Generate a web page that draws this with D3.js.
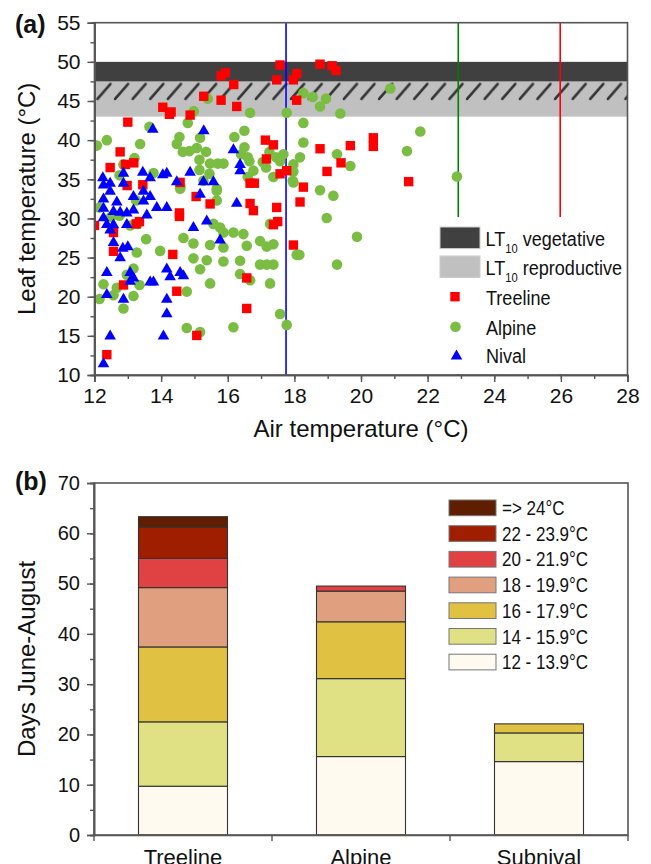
<!DOCTYPE html>
<html>
<head>
<meta charset="utf-8">
<script src="https://cdn.jsdelivr.net/npm/d3@7"></script>
<style>
	body { margin: 0; background: #fff; }
	svg text { font-family: "Liberation Sans", Arial, sans-serif; fill: #111; }
</style>
</head>
<body>
<svg id="chart" width="651" height="864"></svg>
<script>

// Panel (a): leaf vs air temperature, [air, leaf]
var treelinePts = [
	[13.0,42.3],[12.77,38.5],[12.47,36.5],[12.93,36.9],[13.18,37.1],[14.05,44.2],[14.25,43.3],[14.3,43.6],
	[14.87,43.2],[15.8,48.2],[15.93,48.6],[15.28,45.6],[15.8,45.1],[16.18,47.1],[16.27,44.3],[17.57,49.6],
	[17.47,47.7],[17.97,47.7],[18.07,48.5],[18.07,45.1],[18.77,49.7],[19.13,49.5],[19.25,48.9],[18.77,38.9],
	[17.13,40.0],[17.37,39.4],[17.16,37.6],[17.57,35.7],[17.77,36.1],[16.67,34.5],[16.8,34.5],[14.57,34.6],
	[13.45,34.3],[12.98,34.2],[18.27,34.0],[19.68,39.3],[20.37,40.3],[20.37,39.2],[19.4,37.1],[18.98,36.0],
	[21.43,34.7],[15.05,32.8],[15.47,31.85],[14.55,30.7],[14.55,30.25],[13.25,29.3],[13.35,29.6],[12.57,28.2],
	[12.57,25.8],[14.35,25.4],[12.87,21.5],[14.47,20.7],[15.07,15.05],[12.37,12.6],[16.57,22.4],[16.57,18.5],
	[16.67,31.9],[16.77,31.0],[17.47,31.4],[17.37,29.2],[17.5,29.6],[17.97,26.6],[18.17,32.1],[12.0,29.1]
];
var alpinePts = [
	[12.07,39.3],[12.37,40.0],[12.87,36.9],[13.2,37.7],[12.75,35.5],[13.37,39.5],[13.65,41.7],[13.77,35.8],
	[14.98,43.7],[14.8,42.2],[14.55,40.4],[14.47,39.5],[14.65,38.5],[14.85,38.6],[15.07,39.0],[15.17,40.3],
	[15.35,38.5],[15.15,37.5],[15.47,37.0],[15.7,37.0],[15.87,37.0],[15.4,45.3],[16.67,43.5],[16.5,41.2],
	[16.2,40.4],[16.5,39.1],[16.4,38.2],[16.6,37.8],[16.65,37.3],[16.77,36.1],[16.6,35.3],[17.05,37.2],
	[17.15,36.5],[17.37,35.3],[17.25,38.5],[17.45,37.8],[17.67,38.2],[17.57,37.3],[17.97,36.9],[17.95,34.8],
	[17.97,36.0],[17.77,43.5],[18.27,46.0],[18.27,42.2],[18.27,39.7],[18.17,37.8],[18.55,45.5],[18.77,44.3],
	[18.95,45.3],[18.77,33.6],[15.45,35.7],[15.27,34.8],[15.15,36.2],[15.67,33.8],[14.58,34.0],[19.38,43.4],
	[20.88,46.6],[21.78,41.1],[21.38,38.6],[19.28,38.2],[19.68,36.7],[19.17,32.9],[22.88,35.35],[18.97,30.05],
	[19.88,27.65],[18.15,25.35],[19.28,24.1],[12.15,31.4],[12.27,21.6],[12.15,19.7],[12.57,20.2],[12.67,21.15],
	[12.87,18.5],[13.17,20.1],[12.97,22.8],[13.17,23.6],[13.35,21.5],[13.27,25.65],[13.55,27.35],[13.07,29.1],
	[12.75,30.35],[13.97,25.85],[14.57,33.8],[14.67,27.5],[14.77,20.65],[14.77,16.0],[14.97,26.8],[14.97,24.9],
	[15.17,23.5],[15.17,15.5],[15.37,24.65],[15.47,26.6],[15.47,21.7],[15.67,33.55],[15.67,32.3],[15.57,29.3],
	[15.77,28.85],[15.87,28.2],[15.87,26.3],[15.87,24.5],[16.17,28.2],[16.17,16.1],[16.37,24.6],[16.37,22.9],
	[16.47,28.0],[16.57,26.5],[16.67,22.1],[16.97,27.1],[16.97,24.1],[17.17,26.4],[17.17,24.1],[17.27,21.7],
	[17.37,26.7],[17.37,24.1],[17.27,29.3],[17.57,17.8],[17.77,16.4],[18.07,25.35],[17.97,34.6],[13.25,32.3],
	[13.3,29.3],[12.5,30.2]
];
var nivalPts = [
	[13.75,41.5],[15.28,41.3],[16.17,38.9],[16.37,37.0],[16.37,36.2],[12.25,35.3],[12.87,35.9],[13.45,36.0],
	[14.17,35.9],[14.05,35.7],[13.67,35.3],[14.87,36.0],[14.47,34.8],[15.27,34.8],[15.57,34.8],[12.47,34.6],
	[12.27,34.4],[12.87,34.6],[12.47,33.6],[12.27,32.6],[12.67,32.2],[13.17,32.9],[13.47,32.35],[13.67,32.9],
	[13.47,33.6],[15.17,33.2],[16.27,32.05],[12.27,31.4],[12.57,31.0],[12.77,30.9],[12.97,30.8],[13.17,31.2],
	[13.87,31.5],[14.17,31.5],[13.57,30.55],[12.27,30.2],[12.37,29.35],[12.57,29.3],[12.47,28.65],[12.97,29.35],
	[14.97,28.95],[15.37,29.8],[15.77,27.35],[12.57,27.05],[12.85,26.3],[13.0,26.5],[12.77,25.1],[12.37,23.2],
	[13.07,23.2],[13.17,22.5],[13.07,22.1],[13.67,22.0],[13.77,22.0],[14.17,23.65],[14.27,22.65],[14.57,23.2],
	[14.67,22.8],[12.37,20.4],[12.87,19.8],[14.17,19.8],[14.17,17.95],[12.47,15.1],[14.07,15.1],[12.27,11.55]
];
var airLines = [ { x: 17.75, color: "#0000ff" }, { x: 22.92, color: "#008000" }, { x: 25.98, color: "#ff0000" } ];
var bandVegetative = [47.5, 50];
var bandReproductive = [43, 47.5];
var bandHatch = [45, 47.5];
var xTicksA = d3.range( 12, 29, 2 );
var yTicksA = d3.range( 10, 56, 5 );

// Panel (b): days June-August per temperature class (stacked bottom to top)
var sites = [ "Treeline", "Alpine", "Subnival" ];
var classes = [ "12 - 13.9°C", "14 - 15.9°C", "16 - 17.9°C", "18 - 19.9°C", "20 - 21.9°C", "22 - 23.9°C", "=> 24°C" ];
var classColors = [ "#fffaef", "#e0e184", "#e0c142", "#e0a07f", "#e04142", "#a01e00", "#5f1e00" ];
var treelineDays = [ 9.7, 12.8, 14.9, 11.8, 5.8, 6.2, 2.1 ];
var alpineDays = [ 15.6, 15.5, 11.3, 6.1, 1.0, 0, 0 ];
var subnivalDays = [ 14.6, 5.7, 1.8, 0, 0, 0, 0 ];
var yTicksB = d3.range( 0, 71, 10 );

var svg = d3.select( "#chart" );
var axisColor = "#555";

// condensed text (the legends use a narrow face)
var narrowText = function( parent, x, y, size, sx )
{
	return parent.append( "text" )
		.attr( "transform", "translate(" + x + "," + y + ") scale(" + sx + ",1)" )
		.style( "font-size", size + "px" );
};

// ---------- Panel (a) ----------
var A = { left: 94.5, right: 627.5, top: 22.7, bottom: 375 };
var xA = d3.scaleLinear().domain( [ 12, 28 ] ).range( [ A.left, A.right ] );
var yA = d3.scaleLinear().domain( [ 10, 55 ] ).range( [ A.bottom, A.top ] );

var defs = svg.append( "defs" );
var hatchH = yA( bandHatch[ 0 ] ) - yA( bandHatch[ 1 ] );
var pat = defs.append( "pattern" )
	.attr( "id", "hatch" )
	.attr( "patternUnits", "userSpaceOnUse" )
	.attr( "x", A.left + 1 ).attr( "y", yA( bandHatch[ 1 ] ) )
	.attr( "width", 17.6 )
	.attr( "height", hatchH );
pat.append( "line" )
	.attr( "x1", 2 ).attr( "y1", hatchH - 2 )
	.attr( "x2", 15 ).attr( "y2", 2.5 )
	.attr( "stroke", "#333" ).attr( "stroke-width", 2.6 ).attr( "stroke-linecap", "round" );

defs.append( "clipPath" ).attr( "id", "clipA" ).append( "rect" )
	.attr( "x", A.left ).attr( "y", A.top ).attr( "width", A.right - A.left ).attr( "height", A.bottom - A.top );

var gA = svg.append( "g" );
var plotA = gA.append( "g" ).attr( "clip-path", "url(#clipA)" );

plotA.append( "rect" )
	.attr( "x", A.left ).attr( "width", A.right - A.left )
	.attr( "y", yA( bandReproductive[ 1 ] ) ).attr( "height", yA( bandReproductive[ 0 ] ) - yA( bandReproductive[ 1 ] ) )
	.attr( "fill", "#c0c0c0" );
plotA.append( "rect" )
	.attr( "x", A.left ).attr( "width", A.right - A.left )
	.attr( "y", yA( bandVegetative[ 1 ] ) ).attr( "height", yA( bandVegetative[ 0 ] ) - yA( bandVegetative[ 1 ] ) )
	.attr( "fill", "#404040" );
plotA.append( "rect" )
	.attr( "x", A.left ).attr( "width", A.right - A.left )
	.attr( "y", yA( bandHatch[ 1 ] ) ).attr( "height", hatchH )
	.attr( "fill", "url(#hatch)" );

plotA.selectAll( "line.air" )
	.data( airLines )
	.enter().append( "line" )
	.attr( "class", "air" )
	.attr( "x1", function( d ) { return xA( d.x ); } ).attr( "x2", function( d ) { return xA( d.x ); } )
	.attr( "y1", A.top ).attr( "y2", A.bottom )
	.attr( "stroke", function( d ) { return d.color; } )
	.attr( "stroke-width", 1.6 );

// legend background hides the lines below it
var legA = { x: 436, y: 217 };
plotA.append( "rect" )
	.attr( "x", legA.x ).attr( "y", legA.y ).attr( "width", A.right - legA.x - 1 ).attr( "height", A.bottom - legA.y - 1 )
	.attr( "fill", "#fff" );

var pts = plotA.append( "g" );
pts.selectAll( "circle" )
	.data( alpinePts )
	.enter().append( "circle" )
	.attr( "cx", function( d ) { return xA( d[ 0 ] ); } )
	.attr( "cy", function( d ) { return yA( d[ 1 ] ); } )
	.attr( "r", 5.3 )
	.attr( "fill", "#7abd42" );
pts.selectAll( "rect" )
	.data( treelinePts )
	.enter().append( "rect" )
	.attr( "x", function( d ) { return xA( d[ 0 ] ) - 4.7; } )
	.attr( "y", function( d ) { return yA( d[ 1 ] ) - 4.7; } )
	.attr( "width", 9.4 ).attr( "height", 9.4 )
	.attr( "fill", "#ff0000" );
pts.selectAll( "path" )
	.data( nivalPts )
	.enter().append( "path" )
	.attr( "transform", function( d ) { return "translate(" + xA( d[ 0 ] ) + "," + yA( d[ 1 ] ) + ")"; } )
	.attr( "d", "M0,-5.6L5.8,4.4L-5.8,4.4Z" )
	.attr( "fill", "#0000ff" );

// axes (a)
gA.append( "g" )
	.attr( "transform", "translate(0," + A.bottom + ")" )
	.call( d3.axisBottom( xA ).tickValues( d3.range( 12, 28.1, 1 ) ).tickSize( 4 ).tickFormat( "" ) );
gA.append( "g" )
	.attr( "class", "ticksA" )
	.attr( "transform", "translate(0," + A.bottom + ")" )
	.call( d3.axisBottom( xA ).tickValues( xTicksA ).tickSize( 7 ).tickPadding( 6 ).tickFormat( d3.format( "d" ) ) );
gA.append( "g" )
	.attr( "transform", "translate(" + A.left + ",0)" )
	.call( d3.axisLeft( yA ).tickValues( d3.range( 10, 55.1, 2.5 ) ).tickSize( 4 ).tickFormat( "" ) );
gA.append( "g" )
	.attr( "class", "ticksA" )
	.attr( "transform", "translate(" + A.left + ",0)" )
	.call( d3.axisLeft( yA ).tickValues( yTicksA ).tickSize( 7 ).tickPadding( 7 ).tickFormat( d3.format( "d" ) ) );
gA.append( "rect" )
	.attr( "x", A.left ).attr( "y", A.top ).attr( "width", A.right - A.left ).attr( "height", A.bottom - A.top )
	.attr( "fill", "none" ).attr( "stroke", axisColor ).attr( "stroke-width", 1.6 );

gA.append( "text" )
	.attr( "x", 361 ).attr( "y", 437 )
	.attr( "text-anchor", "middle" ).style( "font-size", "24px" )
	.text( "Air temperature (°C)" );
gA.append( "text" )
	.attr( "transform", "translate(35," + ( A.top + A.bottom ) / 2 + ") rotate(-90)" )
	.attr( "text-anchor", "middle" ).style( "font-size", "24px" )
	.text( "Leaf temperature (°C)" );
gA.append( "text" )
	.attr( "x", 15 ).attr( "y", 33 )
	.style( "font-size", "25px" ).style( "font-weight", "bold" )
	.text( "(a)" );

// legend (a)
var legItems = [
	{ kind: "box", fill: "#404040", label: "vegetative" },
	{ kind: "box", fill: "#c0c0c0", label: "reproductive" },
	{ kind: "square", fill: "#ff0000", label: "Treeline" },
	{ kind: "circle", fill: "#7abd42", label: "Alpine" },
	{ kind: "triangle", fill: "#0000ff", label: "Nival" }
];
var legRowY = [ 238, 267, 296.7, 326.7, 355 ];
var legG = gA.append( "g" );
legItems.forEach( function( item, i ) {
	var cy = legRowY[ i ];
	if( item.kind == "box" )
	{
		legG.append( "rect" ).attr( "x", 440 ).attr( "y", cy - 11 ).attr( "width", 40 ).attr( "height", 21.6 )
			.attr( "fill", item.fill ).attr( "stroke", "#ccc" ).attr( "stroke-width", 1 );
		var t = narrowText( legG, 485.5, cy + 7.5, 21, 0.86 );
		t.append( "tspan" ).text( "LT" );
		t.append( "tspan" ).attr( "dy", 7 ).style( "font-size", "13px" ).text( "10" );
		t.append( "tspan" ).attr( "dy", -7 ).text( "\u00a0" + item.label );
	}
	else
	{
		if( item.kind == "square" )
			legG.append( "rect" ).attr( "x", 455 - 4.7 ).attr( "y", cy - 4.7 ).attr( "width", 9.4 ).attr( "height", 9.4 ).attr( "fill", item.fill );
		else if( item.kind == "circle" )
			legG.append( "circle" ).attr( "cx", 455.5 ).attr( "cy", cy ).attr( "r", 5.3 ).attr( "fill", item.fill );
		else
			legG.append( "path" ).attr( "transform", "translate(456.5," + cy + ")" ).attr( "d", "M0,-5.6L5.8,4.4L-5.8,4.4Z" ).attr( "fill", item.fill );
		narrowText( legG, 486, cy + 8, 21, 0.86 ).text( item.label );
	}
} );

// ---------- Panel (b) ----------
var B = { left: 94, right: 628, top: 483, bottom: 835 };
var xB = d3.scaleBand().domain( sites ).range( [ B.left, B.right ] ).paddingInner( 0 ).paddingOuter( 0 );
var yB = d3.scaleLinear().domain( [ 0, 70 ] ).range( [ B.bottom, B.top ] );

var rows = sites.map( function( s, i ) {
	var vals = [ treelineDays, alpineDays, subnivalDays ][ i ];
	var row = { site: s };
	classes.forEach( function( c, j ) { row[ c ] = vals[ j ]; } );
	return row;
} );
var stack = d3.stack().keys( classes )( rows );

var gB = svg.append( "g" );
var barW = xB.bandwidth() * 0.5;
gB.selectAll( "g.layer" )
	.data( stack )
	.enter().append( "g" )
	.attr( "class", "layer" )
	.attr( "fill", function( d, i ) { return classColors[ i ]; } )
	.selectAll( "rect" )
	.data( function( d ) { return d.filter( function( p ) { return p[ 1 ] - p[ 0 ] > 0; } ); } )
	.enter().append( "rect" )
	.attr( "x", function( d ) { return xB( d.data.site ) + ( xB.bandwidth() - barW ) / 2; } )
	.attr( "width", barW )
	.attr( "y", function( d ) { return yB( d[ 1 ] ); } )
	.attr( "height", function( d ) { return yB( d[ 0 ] ) - yB( d[ 1 ] ); } )
	.attr( "stroke", "#333" ).attr( "stroke-width", 1.1 );

gB.append( "g" )
	.attr( "class", "catB" )
	.attr( "transform", "translate(0," + B.bottom + ")" )
	.call( d3.axisBottom( xB ).tickSize( 0 ).tickPadding( 9 ) )
	.call( function( g ) { g.selectAll( "text" ).attr( "dy", "0.95em" ); } );
gB.append( "g" )
	.attr( "transform", "translate(0," + B.bottom + ")" )
	.selectAll( "line" )
	.data( sites.concat( [ null ] ) )
	.enter().append( "line" )
	.attr( "x1", function( d, i ) { return B.left + i * xB.step(); } )
	.attr( "x2", function( d, i ) { return B.left + i * xB.step(); } )
	.attr( "y1", 0 ).attr( "y2", 6 )
	.attr( "stroke", axisColor ).attr( "stroke-width", 1.4 );
gB.append( "g" )
	.attr( "transform", "translate(" + B.left + ",0)" )
	.call( d3.axisLeft( yB ).tickValues( d3.range( 0, 70.1, 5 ) ).tickSize( 4 ).tickFormat( "" ) );
gB.append( "g" )
	.attr( "class", "ticksB" )
	.attr( "transform", "translate(" + B.left + ",0)" )
	.call( d3.axisLeft( yB ).tickValues( yTicksB ).tickSize( 7 ).tickPadding( 7 ).tickFormat( d3.format( "d" ) ) );
gB.append( "rect" )
	.attr( "x", B.left ).attr( "y", B.top ).attr( "width", B.right - B.left ).attr( "height", B.bottom - B.top )
	.attr( "fill", "none" ).attr( "stroke", axisColor ).attr( "stroke-width", 1.6 );

gB.append( "text" )
	.attr( "transform", "translate(35," + ( B.top + B.bottom ) / 2 + ") rotate(-90)" )
	.attr( "text-anchor", "middle" ).style( "font-size", "24px" )
	.text( "Days June-August" );
gB.append( "text" )
	.attr( "x", 15 ).attr( "y", 490 )
	.style( "font-size", "25px" ).style( "font-weight", "bold" )
	.text( "(b)" );

// legend (b), top class first
var legB = gB.append( "g" );
classes.slice().reverse().forEach( function( c, i ) {
	var y = 500 + i * 25.7;
	legB.append( "rect" ).attr( "x", 449 ).attr( "y", y ).attr( "width", 47 ).attr( "height", 15.7 )
		.attr( "fill", classColors[ classes.length - 1 - i ] ).attr( "stroke", "#777" ).attr( "stroke-width", 1 );
	narrowText( legB, 502, y + 15, 20, 0.85 ).text( c );
} );

// axis styling
svg.selectAll( ".ticksA .tick text" ).style( "font-size", "21px" );
svg.selectAll( ".ticksB .tick text" ).style( "font-size", "20px" );
svg.selectAll( ".catB .tick text" ).style( "font-size", "22px" );
svg.selectAll( ".domain" ).attr( "stroke", axisColor ).attr( "stroke-width", 1.6 );
svg.selectAll( ".tick line" ).attr( "stroke", axisColor ).attr( "stroke-width", 1.4 );
</script>
</body>
</html>
